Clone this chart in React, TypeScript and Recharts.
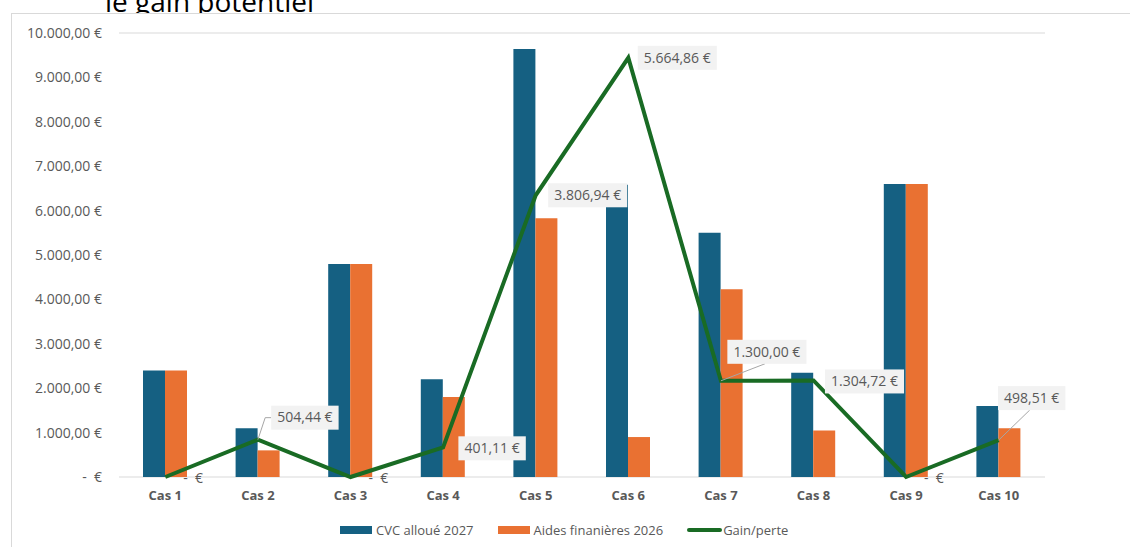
import React from 'react';
import { ComposedChart, Bar, Line, XAxis, YAxis, CartesianGrid, LabelList } from 'recharts';

document.body.style.margin = '0';

const cases = ['Cas 1', 'Cas 2', 'Cas 3', 'Cas 4', 'Cas 5', 'Cas 6', 'Cas 7', 'Cas 8', 'Cas 9', 'Cas 10'];
const cvcAlloue = [2400, 1100, 4800, 2200, 9640, 6580, 5500, 2350, 6600, 1600];
const aidesFinancieres = [2400, 600, 4800, 1800, 5830, 900, 4230, 1050, 6600, 1100];
const gainPerte = [0, 504.44, 0, 401.11, 3806.94, 5664.86, 1300, 1304.72, 0, 498.51];
const yTicks = [0, 1000, 2000, 3000, 4000, 5000, 6000, 7000, 8000, 9000, 10000];

const data = cases.map((c, i) => ({
  cas: c,
  cvc: cvcAlloue[i],
  aides: aidesFinancieres[i],
  gain: gainPerte[i],
}));

const BLUE = '#156082';
const ORANGE = '#E97132';
const GREEN = '#196B24';
const TEXT = '#595959';
const GRID = '#D9D9D9';
const FONT = '"Open Sans", sans-serif';

// where each data label sits relative to its point: [dx, dy, leader]
const LABEL_POS: Record<number, [number, number, string]> = {
  1: [47, -22, 'side'],
  3: [49, 1, 'none'],
  4: [52, 0, 'none'],
  5: [49, 0, 'none'],
  6: [46, -29, 'bottom'],
  7: [51, 1, 'none'],
  9: [33, -42, 'bottom'],
};

const fmtEur = (v: number) => {
  if (v === 0) return '-\u00A0\u00A0€';
  const [i, d] = v.toFixed(2).split('.');
  return `${i.replace(/\B(?=(\d{3})+(?!\d))/g, '.')},${d}\u00A0€`;
};

const textWidth = (s: string) =>
  s.split('').reduce((w, ch) => w + (/[0-9€]/.test(ch) ? 8 : 3.7), 0);

const GainLabel = (props: any) => {
  const { x, y, value, index } = props;
  if (value === 0) {
    return (
      <text x={x + 18} y={y + 2} fill={TEXT} fontSize={14} fontFamily={FONT} dominantBaseline="middle" style={{ whiteSpace: 'pre' }}>
        {fmtEur(0)}
      </text>
    );
  }
  const pos = LABEL_POS[index] || [50, 0, 'none'];
  const txt = fmtEur(value);
  const w = textWidth(txt) + 12;
  const h = 24;
  const cx = x + pos[0];
  const cy = y + pos[1];
  let leader = null;
  if (pos[2] === 'side') {
    leader = <polyline points={`${x},${y} ${cx - w / 2 - 6},${cy} ${cx - w / 2},${cy}`} fill="none" stroke="#A6A6A6" strokeWidth={1} />;
  } else if (pos[2] === 'bottom') {
    leader = <line x1={x} y1={y} x2={cx - 2} y2={cy + h / 2} stroke="#A6A6A6" strokeWidth={1} />;
  }
  return (
    <g>
      {leader}
      <rect x={cx - w / 2} y={cy - h / 2} width={w} height={h} fill="#F2F2F2" />
      <text x={cx} y={cy + 1} fill={TEXT} fontSize={14} fontFamily={FONT} textAnchor="middle" dominantBaseline="middle">
        {txt}
      </text>
    </g>
  );
};

const legendItems = [
  { label: 'CVC alloué 2027', color: BLUE, kind: 'rect' },
  { label: 'Aides finanières 2026', color: ORANGE, kind: 'rect' },
  { label: 'Gain/perte', color: GREEN, kind: 'line' },
];

export default function App() {
  return (
    <div style={{ position: 'relative', width: 1130, height: 547, overflow: 'hidden', background: '#fff', fontFamily: FONT }}>
      <svg width={1130} height={20} style={{ position: 'absolute', left: 0, top: 0 }}>
        <text x={105} y={12} fontSize={28} fontFamily={FONT} fill="#000">le gain potentiel</text>
      </svg>
      <div
        style={{
          position: 'absolute',
          left: 11,
          top: 13,
          width: 1130,
          height: 547,
          background: '#fff',
          borderLeft: `1px solid ${GRID}`,
          borderTop: `1px solid ${GRID}`,
        }}
      />
      <div style={{ position: 'absolute', left: 0, top: 0 }}>
        <ComposedChart
          width={1130}
          height={547}
          data={data}
          margin={{ top: 33, right: 85, left: 0, bottom: 40 }}
          barGap={0}
        >
          <CartesianGrid vertical={false} stroke={GRID} strokeWidth={1} />
          <XAxis
            dataKey="cas"
            axisLine={false}
            tickLine={false}
            tickSize={0}
            tickMargin={14}
            height={30}
            tick={{ fill: TEXT, fontSize: 13, fontWeight: 700, fontFamily: FONT }}
          />
          <YAxis
            yAxisId="left"
            width={119}
            domain={[0, 10000]}
            ticks={yTicks}
            axisLine={false}
            tickLine={false}
            tickSize={0}
            tickMargin={17}
            tickFormatter={fmtEur}
            tick={{ fill: TEXT, fontSize: 14, fontFamily: FONT, style: { whiteSpace: 'pre' } }}
          />
          <YAxis yAxisId="right" orientation="right" hide domain={[0, 6000]} />
          <Bar yAxisId="left" dataKey="cvc" fill={BLUE} barSize={22} isAnimationActive={false} />
          <Bar yAxisId="left" dataKey="aides" fill={ORANGE} barSize={22} isAnimationActive={false} />
          <Line
            yAxisId="right"
            type="linear"
            dataKey="gain"
            stroke={GREEN}
            strokeWidth={4}
            dot={false}
            activeDot={false}
            isAnimationActive={false}
          >
            <LabelList dataKey="gain" content={GainLabel} />
          </Line>
        </ComposedChart>
      </div>
      <div style={{ position: 'absolute', left: 340, top: 521, display: 'flex', alignItems: 'center', fontSize: 13, color: TEXT }}>
        {legendItems.map((it) => (
          <div key={it.label} style={{ display: 'flex', alignItems: 'center', marginRight: 24 }}>
            {it.kind === 'rect' ? (
              <span style={{ display: 'inline-block', width: 32, height: 8, background: it.color, marginRight: 4 }} />
            ) : (
              <span style={{ display: 'inline-block', width: 35, height: 4, borderRadius: 2, background: it.color, marginRight: 1 }} />
            )}
            <span>{it.label}</span>
          </div>
        ))}
      </div>
    </div>
  );
}
